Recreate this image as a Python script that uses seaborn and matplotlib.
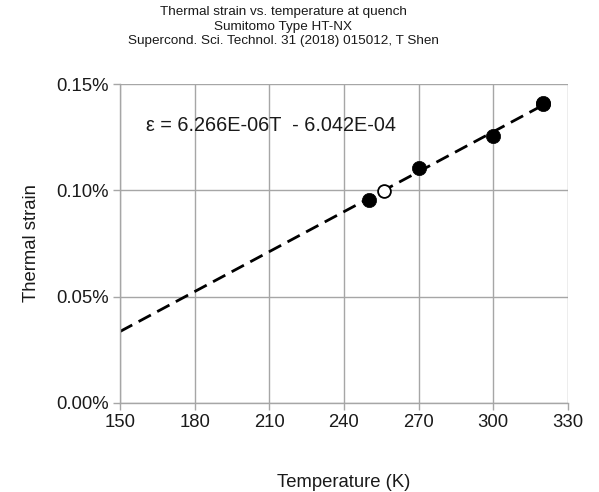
import matplotlib
matplotlib.use("Agg")
import matplotlib.pyplot as plt
import seaborn as sns
import pandas as pd
from matplotlib.ticker import FuncFormatter

# measured points (temperature K, thermal strain %)
meas_T = [250, 270, 300, 320, 320]
meas_strain = [0.0954, 0.1105, 0.1255, 0.1405, 0.1412]

# open marker (quench point)
open_T = [256]
open_strain = [0.0997]

# linear fit endpoints
fit_T = [150, 320]
fit_strain = [0.0336, 0.1401]

x_ticks = [150, 180, 210, 240, 270, 300, 330]
y_ticks = [0.0, 0.05, 0.10, 0.15]


def main():
    sns.set_theme(style="whitegrid")
    plt.rcParams['font.family'] = ['Liberation Sans', 'DejaVu Sans']

    fig = plt.figure(figsize=(5.99, 4.92), dpi=100)
    ax = fig.add_axes([0.2003, 0.181, 0.7477, 0.648])

    fit_df = pd.DataFrame({'T': fit_T, 'strain': fit_strain})
    sns.lineplot(data=fit_df, x='T', y='strain', ax=ax, color='black',
                 linewidth=2.0, dashes=False)
    ax.lines[-1].set_dashes((5, 2.6))

    meas_df = pd.DataFrame({'T': meas_T, 'strain': meas_strain})
    sns.scatterplot(data=meas_df, x='T', y='strain', ax=ax, color='black',
                    s=105, edgecolor='black', linewidth=0.5, zorder=5)

    open_df = pd.DataFrame({'T': open_T, 'strain': open_strain})
    sns.scatterplot(data=open_df, x='T', y='strain', ax=ax, color='white',
                    s=85, edgecolor='black', linewidth=1.3, zorder=6)

    ax.set_xlim(150, 330)
    ax.set_ylim(0, 0.15)
    ax.set_xticks(x_ticks)
    ax.set_yticks(y_ticks)
    ax.yaxis.set_major_formatter(FuncFormatter(lambda v, p: f"{v:.2f}%"))

    grid_col = '#a6a6a6'
    ax.grid(True, color=grid_col, linewidth=1.0)
    ax.set_facecolor('white')
    for side in ['top', 'right']:
        ax.spines[side].set_visible(False)
    for side in ['left', 'bottom']:
        ax.spines[side].set_color(grid_col)
        ax.spines[side].set_linewidth(1.0)
    ax.tick_params(axis='both', which='major', direction='out', length=5,
                   width=1.0, color=grid_col, labelsize=13.3,
                   labelcolor='#1a1a1a', pad=3,
                   bottom=True, left=True)

    ax.set_xlabel('Temperature (K)', fontsize=13.3, color='#1a1a1a', labelpad=31)
    ax.set_ylabel('Thermal strain', fontsize=13.3, color='#1a1a1a', labelpad=12)

    ax.text(0.059, 0.87, 'ε = 6.266E-06T  - 6.042E-04', transform=ax.transAxes,
            fontsize=14.3, color='#1a1a1a', va='center', ha='left')

    fig.suptitle('Thermal strain vs. temperature at quench\n'
                 'Sumitomo Type HT-NX\n'
                 'Supercond. Sci. Technol. 31 (2018) 015012, T Shen',
                 fontsize=9.7, color='#1a1a1a', y=0.988, x=0.473,
                 linespacing=1.3)

    fig.savefig('out.png', dpi=100)
    plt.close(fig)


if __name__ == "__main__":
    main()
